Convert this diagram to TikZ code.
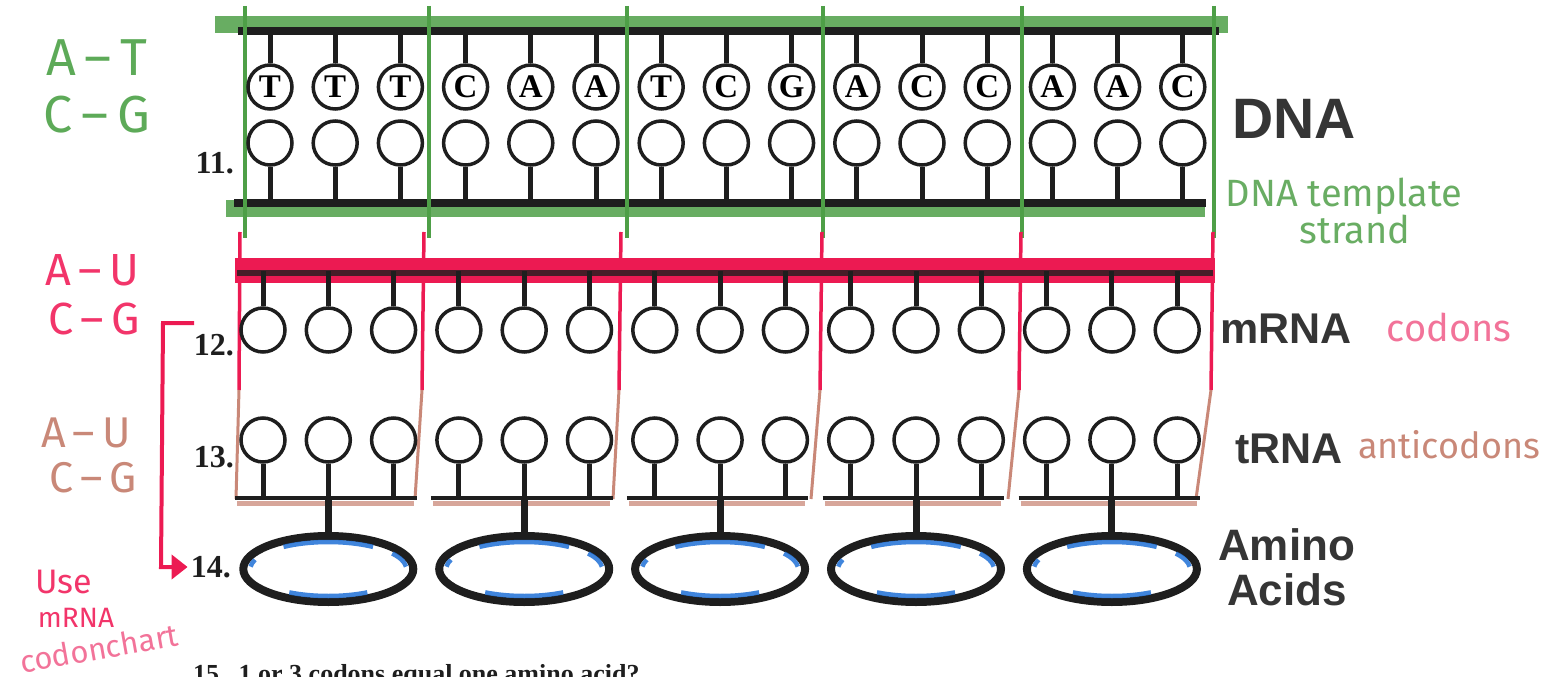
\documentclass[tikz,border=0pt]{standalone}
\usepackage{fontspec}
\setmainfont{Liberation Serif}
\newfontfamily\labelfont{Liberation Sans}
\newfontfamily\handfont{Fira Sans}
\usetikzlibrary{shapes.geometric,arrows.meta,calc}
\definecolor{mkgreen}{HTML}{4E9F47}
\definecolor{txgreen}{HTML}{5DAA58}
\definecolor{mkpink}{HTML}{EC1A52}
\definecolor{txpink}{HTML}{F2356A}
\definecolor{lightpink}{HTML}{F27399}
\definecolor{mktan}{HTML}{C98878}
\definecolor{mkblue}{HTML}{1F70D6}
\definecolor{ink}{HTML}{1E1E1E}
\begin{document}
\begin{tikzpicture}[x=1pt,y=-1pt,
  base/.style={circle,draw=ink,line width=3.5,minimum size=44,inner sep=0,fill=white,
    font=\fontsize{33}{33}\selectfont\bfseries},
  stem/.style={draw=ink,line width=5},
  backbone/.style={draw=ink,line width=8},
  tback/.style={draw=ink,line width=4},
  amino/.style={ellipse,draw=ink,line width=8,fill=white,minimum width=170,minimum height=66},
  blueline/.style={mkblue,line width=4.5,opacity=.85},
  gband/.style={draw=mkgreen,line width=17,opacity=.85},
  gsep/.style={draw=mkgreen,line width=4},
  psep/.style={draw=mkpink,line width=3.5},
  tsep/.style={draw=mktan,line width=3},
  num/.style={font=\fontsize{32}{32}\selectfont\bfseries,text=ink,anchor=base east,inner sep=0},
  rowlabel/.style={font=\labelfont\bfseries\fontsize{43}{43}\selectfont,text=ink!90,anchor=base west,inner sep=0},
  hand/.style={font=\handfont\fontsize{42}{42}\selectfont,inner sep=0},
]
\useasboundingbox (0,0) rectangle (1543,677);
\clip (0,0) rectangle (1543,677);

% backbone levels
\coordinate (dtop) at (0,30);
\coordinate (dbot) at (0,203);
\coordinate (mbb) at (0,271);
\coordinate (tbb) at (0,498);

% ---------- DNA ----------
\draw[gband] (215,25) -- (1228,25);
\draw[gband] (226,208) -- (1205,208);
\draw[backbone] (238,31) -- (1219,31);
\draw[backbone] (234,203) -- (1206,203);
\foreach \xx in {245,429,627,823,1022,1214}
  \draw[gsep] (\xx,6) -- (\xx,238);

\foreach \L [count=\i] in {T,T,T,C,A,A,T,C,G,A,C,C,A,A,C} {
  \pgfmathsetmacro\xx{270+65.2*(\i-1)}
  \node[base] (d\i) at (\xx,87) {\L};
  \node[base] (c\i) at (\xx,143) {};
  \draw[stem] (d\i.north) -- (d\i.north |- dtop);
  \draw[stem] (c\i.south) -- (c\i.south |- dbot);
}

% ---------- codon separators ----------
\foreach \a/\b/\c in {240/239/236,424/422/415,621/619/613,822/820/811,1021/1019/1008,1213/1211/1196} {
  \draw[psep] (\a,232) -- (\b,390);
  \draw[tsep] (\b,390) -- (\c,499);
}

% ---------- mRNA ----------
\draw[draw=mkpink,line width=25] (235,270) -- (1215,270);
\draw[draw=ink!80!mkpink,line width=6] (237,273) -- (1213,273);
\foreach \i in {1,...,15} {
  \pgfmathsetmacro\xx{263+65.3*(\i-1)}
  \node[base] (m\i) at (\xx,330) {};
  \node[base] (t\i) at (\xx,440) {};
  \draw[stem] (m\i.north) -- (m\i.north |- mbb);
  \draw[stem] (t\i.south) -- (t\i.south |- tbb);
}

% ---------- tRNA groups and amino acids ----------
\foreach \k in {1,...,5} {
  \pgfmathtruncatemacro\ia{3*\k-2}
  \pgfmathtruncatemacro\ib{3*\k-1}
  \pgfmathtruncatemacro\ic{3*\k}
  \draw[draw=mktan,line width=5,opacity=.75] ($(t\ia.south |- tbb)+(-26,5)$) -- ($(t\ic.south |- tbb)+(20,5)$);
  \draw[tback] ($(t\ia.south |- tbb)+(-28,0)$) -- ($(t\ic.south |- tbb)+(23,0)$);
  \node[amino] (a\k) at ($(t\ib.south |- tbb)+(0,71)$) {};
  \draw[stem,line width=7] (t\ib.south |- tbb) -- (a\k.north);
  \draw[blueline]
    ($(a\k.center)+(-55:78 and 27)$) arc[start angle=-55,end angle=-125,x radius=78,y radius=27];
  \draw[blueline]
    ($(a\k.center)+(120:78 and 27)$) arc[start angle=120,end angle=60,x radius=78,y radius=27];
  \draw[blueline]
    ($(a\k.center)+(-5:78 and 27)$) arc[start angle=-5,end angle=-35,x radius=78,y radius=27];
  \draw[blueline]
    ($(a\k.center)+(185:78 and 27)$) arc[start angle=185,end angle=200,x radius=78,y radius=27];
}

% ---------- row numbers ----------
\node[num] (n11) at (234,173) {11.};
\node[num] (n12) at (234,355) {12.};
\node[num] (n13) at (234,467) {13.};
\node[num] (n14) at (231,577) {14.};
\node[font=\fontsize{26}{26}\selectfont\bfseries,text=ink,anchor=base west,inner sep=0] (q15)
  at (193,682) {15.\ \ 1 or 3 codons equal one amino acid?};

% ---------- row labels ----------
\node[rowlabel,font=\labelfont\bfseries\fontsize{57}{57}\selectfont] (lDNA) at (1232,139) {DNA};
\node[rowlabel] (lmRNA) at (1220,343) {mRNA};
\node[rowlabel] (ltRNA) at (1235,463) {tRNA};
\node[rowlabel,font=\labelfont\bfseries\fontsize{44}{44}\selectfont] (lAmino) at (1218,560) {Amino};
\node[rowlabel,font=\labelfont\bfseries\fontsize{44}{44}\selectfont] (lAcids) at (1227,605) {Acids};

% ---------- handwritten notes ----------
\node[hand,text=txgreen,font=\handfont\fontsize{52}{52}\selectfont] (gAT) at (97,58) {A\,–\,T};
\node[hand,text=txgreen,font=\handfont\fontsize{52}{52}\selectfont] (gCG) at (97,115) {C\,–\,G};
\node[hand,text=txpink,font=\handfont\fontsize{45}{45}\selectfont] (pAU) at (92,270) {A\,–\,U};
\node[hand,text=txpink,font=\handfont\fontsize{45}{45}\selectfont] (pCG) at (94,319) {C\,–\,G};
\node[hand,text=mktan,font=\handfont\fontsize{43}{43}\selectfont] (tAU) at (86,433) {A\,–\,U};
\node[hand,text=mktan,font=\handfont\fontsize{43}{43}\selectfont] (tCG) at (93,478) {C\,–\,G};

\node[hand,text=mkgreen!85!white,font=\handfont\fontsize{38}{38}\selectfont] (tmpl) at (1344,196) {DNA template};
\node[hand,text=mkgreen!85!white,font=\handfont\fontsize{38}{38}\selectfont] (strd) at (1355,229) {strand};
\node[hand,text=lightpink,font=\handfont\fontsize{38}{38}\selectfont] (cod) at (1449,327) {codons};
\node[hand,text=mktan,font=\handfont\fontsize{36}{36}\selectfont] (anti) at (1449,445) {anticodons};

\node[hand,text=txpink,font=\handfont\fontsize{34}{34}\selectfont] (use) at (64,582) {Use};
\node[hand,text=txpink,font=\handfont\fontsize{28}{28}\selectfont] (mrna) at (76,618) {mRNA};
\node[hand,text=lightpink,font=\handfont\fontsize{31}{31}\selectfont,rotate=10] (chart) at (99,648) {codonchart};

% bracket arrow from the mRNA row down to the amino acids
\coordinate (brtop) at (194,323);
\coordinate (brbend) at (161,567);
\draw[mkpink,line width=4,-{Triangle[length=16,width=24]},shorten >=3]
  (brtop) -- (163,323) -- (brbend) -- (brbend -| n14.west);
\end{tikzpicture}
\end{document}
